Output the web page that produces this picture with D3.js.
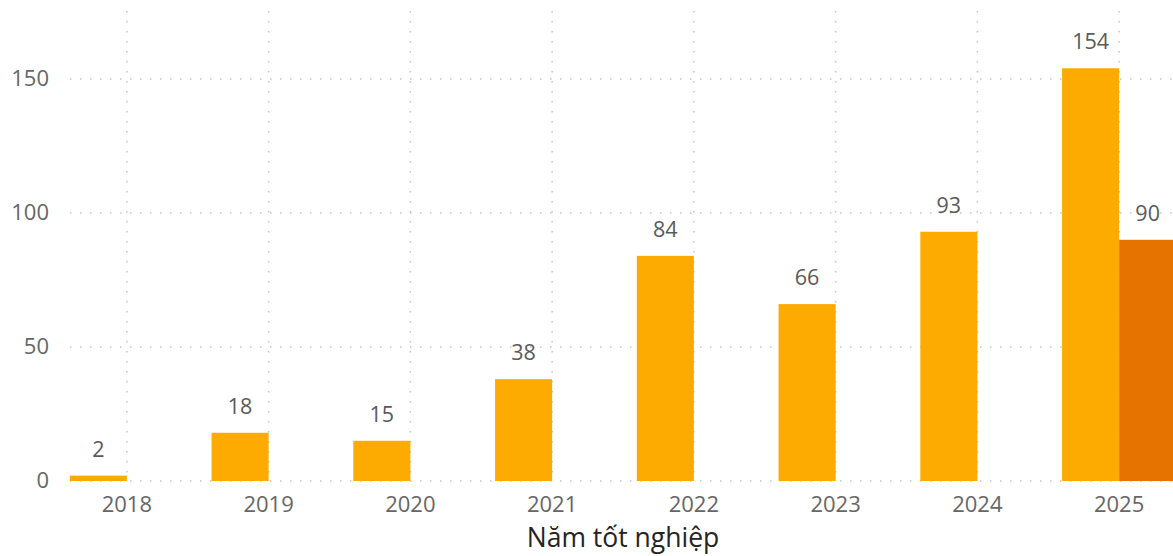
<!DOCTYPE html>
<html lang="vi">
<head>
<meta charset="UTF-8"/>
<title>Năm tốt nghiệp</title>
<script src="https://d3js.org/d3.v7.min.js"></script>
<style type="text/css">
  body { margin: 0; background: #fff; }
  svg text { font-family: "Open Sans", "Noto Sans", sans-serif; }
  .grid line { stroke: #c4c4c4; stroke-width: 1.5; stroke-dasharray: 1.5, 8.5; }
  .tick-label { fill: #666; font-size: 22px; }
  .data-label { fill: #5a5a5a; font-size: 21.5px; }
  .axis-title { fill: #252423; font-size: 26.5px; }
</style>
</head>
<body>
<script>
// data
var years = ["2018", "2019", "2020", "2021", "2022", "2023", "2024", "2025"];
var seriesA = [2, 18, 15, 38, 84, 66, 93, 154];
var seriesB = [null, null, null, null, null, null, null, 90];
var yTicks = [0, 50, 100, 150];
var colors = ["#FDAB00", "#E67300"];

var width = 1173, height = 556;

// scales
var x = d3.scaleBand()
    .domain(years)
    .range([56, 1190])
    .paddingInner(0.195)
    .paddingOuter(0.0975);

var xSub = d3.scaleBand()
    .domain(["a", "b"])
    .range([0, x.bandwidth()]);

var y = d3.scaleLinear()
    .domain([0, 150])
    .range([481, 79]);

var svg = d3.select("body").append("svg")
    .attr("width", width)
    .attr("height", height);

// gridlines
var grid = svg.append("g").attr("class", "grid");
grid.selectAll("line.h")
    .data(yTicks)
  .enter().append("line")
    .attr("class", "h")
    .attr("x1", 70).attr("x2", width)
    .attr("y1", function(d) { return y(d); })
    .attr("y2", function(d) { return y(d); });
grid.selectAll("line.v")
    .data(years)
  .enter().append("line")
    .attr("class", "v")
    .attr("x1", function(d) { return x(d) + x.bandwidth() / 2; })
    .attr("x2", function(d) { return x(d) + x.bandwidth() / 2; })
    .attr("y1", 11).attr("y2", y(0));

// y tick labels
svg.append("g").selectAll("text")
    .data(yTicks)
  .enter().append("text")
    .attr("class", "tick-label")
    .attr("x", 49)
    .attr("y", function(d) { return y(d) - 1; })
    .attr("dy", "0.35em")
    .attr("text-anchor", "end")
    .text(function(d) { return d; });

// x tick labels
svg.append("g").selectAll("text")
    .data(years)
  .enter().append("text")
    .attr("class", "tick-label")
    .attr("x", function(d) { return x(d) + x.bandwidth() / 2; })
    .attr("y", 504)
    .attr("dy", "0.35em")
    .attr("text-anchor", "middle")
    .text(function(d) { return d; });

// bars
var rows = [];
years.forEach(function(yr, i) {
  if (seriesA[i] != null) rows.push({year: yr, key: "a", value: seriesA[i], color: colors[0]});
  if (seriesB[i] != null) rows.push({year: yr, key: "b", value: seriesB[i], color: colors[1]});
});

svg.append("g").selectAll("rect")
    .data(rows)
  .enter().append("rect")
    .attr("x", function(d) { return x(d.year) + xSub(d.key); })
    .attr("width", xSub.bandwidth())
    .attr("y", function(d) { return y(d.value); })
    .attr("height", function(d) { return y(0) - y(d.value); })
    .attr("fill", function(d) { return d.color; });

// data labels
svg.append("g").selectAll("text")
    .data(rows)
  .enter().append("text")
    .attr("class", "data-label")
    .attr("x", function(d) { return x(d.year) + xSub(d.key) + xSub.bandwidth() / 2; })
    .attr("y", function(d) { return y(d.value) - 19; })
    .attr("text-anchor", "middle")
    .text(function(d) { return d.value; });

// axis title
svg.append("text")
    .attr("class", "axis-title")
    .attr("x", 623)
    .attr("y", 547)
    .attr("text-anchor", "middle")
    .text("Năm tốt nghiệp");
</script>
</body>
</html>
